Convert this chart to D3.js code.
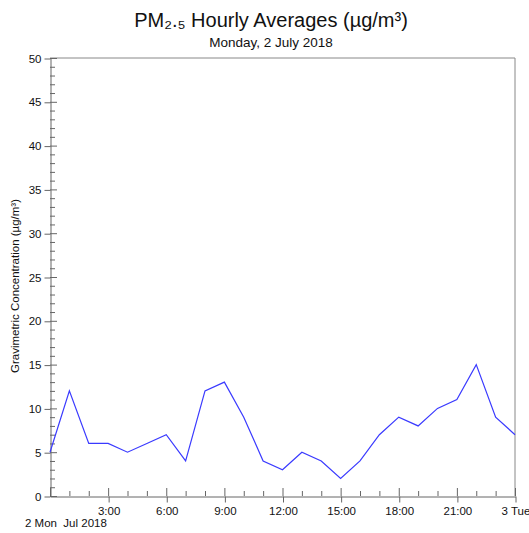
<!DOCTYPE html>
<html><head><meta charset="utf-8">
<script src="https://cdn.jsdelivr.net/npm/d3@7"></script>
<style>body{margin:0;background:#fff}svg{display:block}text{font-family:"Liberation Sans",Arial,sans-serif;fill:#111}</style>
</head><body><svg id="c" width="529" height="533"></svg>
<script>
const hours = [0,1,2,3,4,5,6,7,8,9,10,11,12,13,14,15,16,17,18,19,20,21,22,23,24];
const pm25 = [5,12,6,6,5,6,7,4,12,13,9,4,3,5,4,2,4,7,9,8,10,11,15,9,7];
const xTickHours = [3,6,9,12,15,18,21];
const xTickLabels = ["3:00","6:00","9:00","12:00","15:00","18:00","21:00"];
const yTicks = [0,5,10,15,20,25,30,35,40,45,50];
const titleText = "PM₂.₅ Hourly Averages (µg/m³)";
const subtitleText = "Monday, 2 July 2018";
const yLabel = "Gravimetric Concentration (µg/m³)";

const svg = d3.select("#c");
const L=50,R=515,T=58,B=496;
const x = d3.scaleLinear().domain([0,24]).range([L,R]);
const y = d3.scaleLinear().domain([0,50]).range([B,T]);
const axisCol="#666";
const FS=11.5;

// frame top & right
svg.append("path").attr("d",`M${L},${T}H${R}V${B}`).attr("fill","none").attr("stroke","#888").attr("stroke-width",1);

// y axis minor + inner major
const yMinor = d3.range(0,51,1);
svg.append("g").selectAll("line").data(yMinor).join("line")
  .attr("x1",L).attr("x2",d=>L+(d%5===0?7:5)).attr("y1",d=>y(d)+0.5).attr("y2",d=>y(d)+0.5)
  .attr("stroke",axisCol);
const yAxis = d3.axisLeft(y).tickValues(yTicks).tickSize(6).tickSizeOuter(0).tickPadding(3);
const gy = svg.append("g").attr("transform",`translate(${L+0.5},0.5)`).call(yAxis);
gy.select(".domain").attr("stroke",axisCol);
gy.selectAll(".tick line").attr("stroke",axisCol);
gy.selectAll("text").attr("font-size",FS).style("font-family","Liberation Sans, Arial, sans-serif").attr("fill","#111");

// x axis minor + inner major
svg.append("g").selectAll("line").data(hours).join("line")
  .attr("x1",d=>x(d)+0.5).attr("x2",d=>x(d)+0.5).attr("y1",B).attr("y2",d=>B-(d%3===0?8:5))
  .attr("stroke",axisCol);
const xAxis = d3.axisBottom(x).tickValues(xTickHours.concat([24])).tickFormat((d)=>{const i=xTickHours.indexOf(d);return i>=0?xTickLabels[i]:"3 Tue";}).tickSize(6).tickSizeOuter(0).tickPadding(4);
const gx = svg.append("g").attr("transform",`translate(0.5,${B+0.5})`).call(xAxis);
gx.select(".domain").attr("stroke",axisCol);
gx.selectAll(".tick line").attr("stroke",axisCol);
gx.selectAll("text").attr("font-size",FS).style("font-family","Liberation Sans, Arial, sans-serif").attr("fill","#111");
svg.append("text").attr("x",25).attr("y",527).attr("font-size",FS).text("2 Mon  Jul 2018").style("white-space","pre");

// line
svg.append("path").datum(hours.map((h,i)=>[h,pm25[i]]))
  .attr("d",d3.line().x(d=>x(d[0])).y(d=>y(d[1])))
  .attr("fill","none").attr("stroke","#3a3aff").attr("stroke-width",1.2);

// titles
svg.append("text").attr("x",271).attr("y",27).attr("text-anchor","middle").attr("font-size",20).text(titleText);
svg.append("text").attr("x",271).attr("y",47).attr("text-anchor","middle").attr("font-size",13.5).text(subtitleText);
svg.append("text").attr("transform","translate(19,286) rotate(-90)").attr("text-anchor","middle").attr("font-size",11.5).text(yLabel);
</script></body></html>
